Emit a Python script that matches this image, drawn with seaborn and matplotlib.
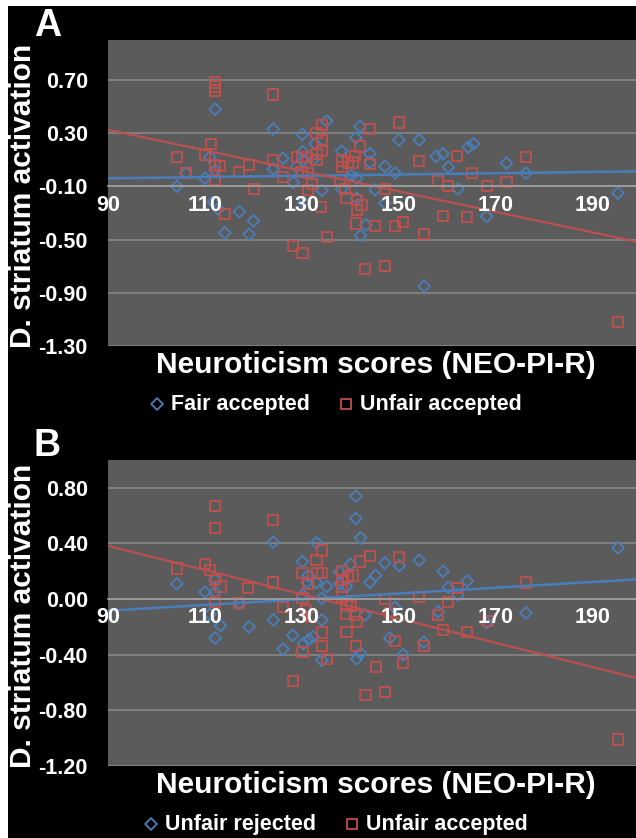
import numpy as np
import pandas as pd
import matplotlib
matplotlib.use("Agg")
import matplotlib.pyplot as plt
from matplotlib.patches import Rectangle
import seaborn as sns

# Panel A: fair offers accepted vs unfair offers accepted
a_fair_x = [104.2, 106.1, 110.0, 111.0, 112.1, 112.1, 111.7, 112.7, 114.1, 117.1, 119.1, 120.0,
            124.1, 124.1, 126.1, 128.2, 128.9, 130.1, 130.2, 130.3, 130.3, 132.3, 132.7, 134.1,
            135.1, 138.2, 138.2, 140.2, 141.1, 141.3, 141.3, 142.0, 142.1, 143.2, 144.0, 144.0,
            145.1, 147.1, 147.1, 149.2, 150.0, 154.2, 155.2, 157.7, 159.1, 160.2, 162.2, 164.3,
            165.4, 168.1, 172.2, 176.2, 195.2]
a_fair_y = [-0.10, 0.00, -0.04, 0.12, 0.02, 0.48, -0.22, -0.27, -0.45, -0.29, -0.46, -0.36,
            0.33, 0.03, 0.11, -0.07, 0.05, 0.29, 0.16, 0.095, -0.22, 0.10, 0.22, -0.13,
            0.39, 0.165, -0.12, -0.02, 0.265, -0.04, -0.19, 0.35, -0.47, -0.39, 0.145, 0.08,
            -0.125, 0.05, -0.225, 0.00, 0.25, 0.25, -0.85, 0.125, 0.145, 0.045, -0.12, 0.195,
            0.22, -0.325, 0.075, 0.00, -0.15]

a_unfair_x = [104.2, 106.1, 110.0, 111.2, 112.1, 112.1, 112.1, 112.1, 113.1, 112.1, 114.1, 117.1,
              119.1, 120.1, 124.1, 124.1, 126.1, 128.2, 128.9, 130.0, 131.0, 129.9, 131.3, 130.1,
              131.3, 132.0, 133.0, 133.0, 133.0, 134.1, 134.1, 134.1, 134.0, 135.1, 137.8, 138.2,
              138.2, 138.9, 139.2, 139.5, 140.6, 140.9, 141.3, 141.3, 141.1, 141.9, 142.3, 143.0,
              144.0, 144.0, 145.1, 147.1, 147.1, 149.2, 150.0, 150.9, 154.2, 155.1, 158.1, 159.1,
              160.2, 162.0, 164.1, 165.1, 168.1, 172.2, 176.2, 195.2]
a_unfair_y = [0.12, 0.00, 0.14, 0.22, 0.68, 0.65, 0.62, 0.06, 0.05, -0.05, -0.31, 0.01,
              0.06, -0.12, 0.59, 0.10, -0.03, -0.55, 0.12, 0.12, 0.12, 0.01, 0.00, -0.60,
              -0.13, -0.08, 0.30, 0.145, 0.10, 0.36, 0.245, 0.17, -0.255, -0.48, -0.055, 0.095,
              0.045, -0.12, -0.19, 0.08, 0.08, 0.13, -0.205, -0.28, -0.38, 0.20, -0.24, -0.72,
              0.33, 0.07, -0.40, -0.12, -0.70, -0.40, 0.38, -0.37, 0.09, -0.46, -0.06, -0.32,
              -0.10, 0.13, -0.33, 0.00, -0.10, -0.07, 0.12, -1.12]

# Panel B: unfair offers rejected vs unfair offers accepted
b_rej_x = [104.2, 110.0, 111.0, 112.1, 112.1, 112.1, 113.2, 117.1, 119.1, 124.1, 124.1, 126.1,
           128.1, 130.1, 130.1, 131.1, 131.3, 131.4, 132.3, 130.3, 133.0, 133.0, 134.1, 134.1,
           134.1, 135.1, 137.8, 137.8, 139.2, 140.0, 141.1, 141.1, 142.1, 141.3, 142.1, 143.0,
           144.0, 145.2, 147.1, 148.1, 149.2, 150.1, 150.9, 154.2, 155.1, 158.1, 159.1, 160.2,
           162.2, 164.1, 168.1, 176.2, 195.2]
b_rej_y = [0.11, 0.05, -0.11, 0.05, 0.14, -0.28, -0.19, -0.03, -0.20, 0.41, -0.15, -0.36,
           -0.26, 0.27, 0.03, 0.12, 0.17, -0.29, -0.27, -0.32, 0.405, 0.12, 0.005, -0.15,
           -0.44, 0.09, 0.195, 0.11, 0.09, 0.25, 0.74, 0.58, 0.44, -0.43, -0.39, -0.115,
           0.12, 0.17, 0.26, -0.28, -0.06, 0.24, -0.40, 0.28, -0.31, -0.09, 0.20, 0.085,
           0.03, 0.13, -0.17, -0.10, 0.37]

b_acc_x = [104.2, 110.0, 111.0, 112.1, 112.1, 112.1, 113.2, 112.1, 117.1, 118.9, 124.1, 124.1,
           126.1, 128.2, 130.1, 130.1, 130.1, 131.3, 130.9, 132.0, 133.0, 133.2, 134.1, 134.2,
           134.1, 134.1, 135.1, 138.2, 138.2, 138.2, 138.2, 139.5, 140.6, 139.2, 140.2, 139.1,
           141.0, 141.3, 139.2, 141.1, 142.0, 143.1, 144.0, 145.2, 147.1, 147.2, 148.1, 149.2,
           150.1, 150.8, 154.2, 155.1, 158.1, 159.1, 160.2, 162.1, 164.1, 168.3, 176.2, 195.2]
b_acc_y = [0.22, 0.25, 0.21, 0.67, 0.51, 0.14, 0.09, -0.02, -0.03, 0.08, 0.57, 0.12,
           -0.055, -0.59, 0.185, 0.005, -0.38, 0.11, -0.08, -0.13, 0.28, 0.19, 0.35, 0.185,
           -0.24, -0.34, -0.43, 0.20, 0.14, 0.085, 0.015, 0.16, 0.17, -0.045, -0.05, -0.11,
           -0.115, -0.165, -0.235, -0.34, 0.27, -0.69, 0.31, -0.49, 0.00, -0.67, -0.10, -0.30,
           0.30, -0.46, 0.015, -0.335, -0.115, -0.22, -0.02, 0.08, -0.235, -0.16, 0.12, -1.01]

BLUE = "#4a7ebb"
RED = "#c0504d"
GRAY_BG = "#5b5b5b"
GRID = "#8a8a8a"

sns.set_style("dark", rc={
    "axes.facecolor": GRAY_BG,
    "figure.facecolor": "black",
    "axes.edgecolor": GRAY_BG,
    "xtick.color": "#9a9a9a",
    "ytick.color": "#9a9a9a",
    "text.color": "white",
    "axes.labelcolor": "white",
})
plt.rcParams["font.family"] = ["Liberation Sans", "DejaVu Sans"]

fig = plt.figure(figsize=(6.36, 8.38), dpi=100)
fig.patch.set_facecolor("white")
fig.patches.append(Rectangle((8 / 636, 0), 1, 1 - 6 / 838, transform=fig.transFigure,
                             facecolor="black", edgecolor="none", zorder=-10))

panels = [
    dict(label="A", bottom=1 - 346 / 838, ylim=(-1.3, 1.0), yticks=np.arange(-1.3, 0.71, 0.4),
         cross=-0.1,
         s1=(a_fair_x, a_fair_y, "Fair accepted"), s2=(a_unfair_x, a_unfair_y, "Unfair accepted")),
    dict(label="B", bottom=1 - 766 / 838, ylim=(-1.2, 1.0), yticks=np.arange(-1.2, 0.81, 0.4),
         cross=0.0,
         s1=(b_rej_x, b_rej_y, "Unfair rejected"), s2=(b_acc_x, b_acc_y, "Unfair accepted")),
]

for p in panels:
    ax = fig.add_axes([108 / 636, p["bottom"], 1 - 108 / 636, 306 / 838])
    ax.set_xlim(90, 198.9)
    ax.set_ylim(*p["ylim"])

    x1, y1, n1 = p["s1"]
    x2, y2, n2 = p["s2"]
    df1 = pd.DataFrame({"x": x1, "y": y1})
    df2 = pd.DataFrame({"x": x2, "y": y2})

    # horizontal gridlines under the markers
    for v in p["yticks"]:
        ax.axhline(v, color=GRID, lw=1.1, zorder=1)

    sns.scatterplot(data=df1, x="x", y="y", marker="D", s=36, facecolors="none",
                    edgecolor=BLUE, linewidth=1.3, label=n1, ax=ax, zorder=2)
    sns.scatterplot(data=df2, x="x", y="y", marker="s", s=54, facecolors="none",
                    edgecolor=RED, linewidth=1.3, label=n2, ax=ax, zorder=2)
    sns.regplot(data=df1, x="x", y="y", scatter=False, ci=None, truncate=False,
                color=BLUE, line_kws=dict(lw=1.8, zorder=2.2), ax=ax)
    sns.regplot(data=df2, x="x", y="y", scatter=False, ci=None, truncate=False,
                color=RED, line_kws=dict(lw=1.5, zorder=2.2), ax=ax)
    ax.set_xlim(90, 198.9)
    ax.set_ylim(*p["ylim"])

    ax.set_yticks(p["yticks"])
    ax.set_yticklabels([f"{v:.2f}" for v in p["yticks"]])
    ax.set_xticks(np.arange(90, 191, 20))
    ax.grid(False)
    ax.set_axisbelow(False)

    for side in ["top", "right", "left"]:
        ax.spines[side].set_visible(False)
    ax.spines["bottom"].set_position(("data", p["cross"]))
    ax.spines["bottom"].set_color("#a0a0a0")
    ax.spines["bottom"].set_linewidth(1.2)

    ax.tick_params(axis="x", direction="out", length=4, width=1, pad=2,
                   labelsize=15.5, labelcolor="white")
    ax.tick_params(axis="y", direction="out", length=5, width=1, pad=9.5,
                   labelsize=15.5, labelcolor="white")
    for t in ax.get_xticklabels() + ax.get_yticklabels():
        t.set_fontweight("bold")

    ax.set_xlabel("Neuroticism scores (NEO-PI-R)", fontsize=21.5, fontweight="bold", color="white")
    ax.xaxis.set_label_coords(0.508, -0.015)
    ax.set_ylabel("D. striatum activation", fontsize=21.5, fontweight="bold", color="white")
    ax.yaxis.set_label_coords(-0.161, 0.49)
    ax.yaxis.label.set_va("center")

    leg = ax.legend(loc="center", bbox_to_anchor=(0.43, -0.19), ncol=2, frameon=False,
                    handletextpad=0.25, columnspacing=1.27, handlelength=0.8,
                    prop=dict(size=15.5, weight="bold"))
    for t in leg.get_texts():
        t.set_color("white")

    top_px = 838 - (p["bottom"] * 838 + 306)
    fig.text(34 / 636, 1 - (top_px - 14) / 838, p["label"], fontsize=27, fontweight="bold",
             color="white", ha="left", va="center")

fig.savefig("out.png", dpi=100, facecolor=fig.get_facecolor())
